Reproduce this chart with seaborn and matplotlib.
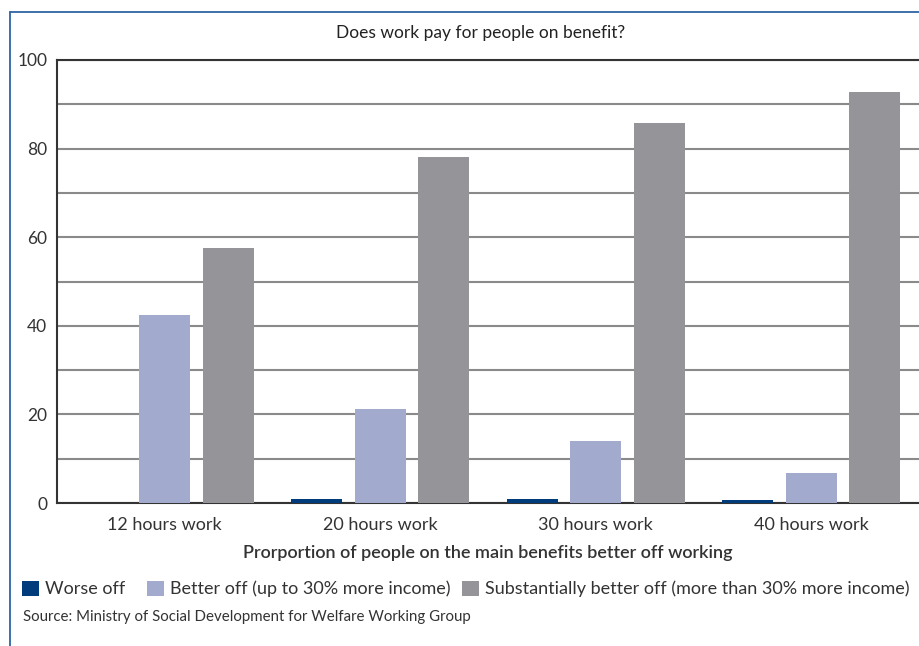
import matplotlib
matplotlib.use("Agg")
import matplotlib.pyplot as plt
import seaborn as sns
import pandas as pd
from matplotlib.lines import Line2D
from matplotlib.patches import Patch
from matplotlib.ticker import MultipleLocator, FixedLocator

categories = ["12 hours work", "20 hours work", "30 hours work", "40 hours work"]
series_names = ["Worse off", "Better off (up to 30% more income)",
                "Substantially better off (more than 30% more income)"]
worse_off = [0.0, 1.0, 0.8, 0.6]
better_off = [42.4, 21.3, 14.0, 6.8]
substantially_better = [57.6, 78.1, 85.8, 92.8]
colors = ["#003b7b", "#a2abcd", "#959599"]

rows = []
for name, vals in zip(series_names, [worse_off, better_off, substantially_better]):
    for c, v in zip(categories, vals):
        rows.append({"category": c, "series": name, "value": v})
df = pd.DataFrame(rows)

sns.set_theme(style="white")
plt.rcParams['font.family'] = ['Lato', 'DejaVu Sans']
text_color = "#333333"

fig = plt.figure(figsize=(9.19, 6.46), dpi=100)
ax = fig.add_axes([57/919, 1-503/646, 862/919, 443/646])

sns.barplot(data=df, x="category", y="value", hue="series", palette=colors,
            width=0.884, gap=0.2, ax=ax, legend=False, saturation=1,
            linewidth=0, edgecolor="none")

ax.set_xlim(-0.5, 3.5)
ax.set_ylim(0, 100)
ax.yaxis.set_major_locator(MultipleLocator(20))
ax.yaxis.set_minor_locator(MultipleLocator(10))
ax.grid(axis="y", which="both", color="#8a8a8a", lw=1.5, zorder=0)
ax.set_axisbelow(True)
for b in ax.patches:
    b.set_zorder(3)

ax.tick_params(axis="y", which="both", length=0, pad=7, labelsize=12.5, labelcolor=text_color)
ax.xaxis.set_minor_locator(FixedLocator([-0.5, 0.5, 1.5, 2.5]))
ax.tick_params(axis="x", which="major", length=0, pad=10, labelsize=13, labelcolor=text_color)
ax.tick_params(axis="x", which="minor", length=9, width=1.5, color="#333333", direction="out")
ax.set_xlabel("Prorportion of people on the main benefits better off working",
              fontsize=13, fontweight="semibold", color=text_color, labelpad=9)
ax.set_ylabel("")

for s in ["left", "bottom", "top"]:
    ax.spines[s].set_visible(True)
    ax.spines[s].set_color("#333333")
    ax.spines[s].set_linewidth(1.5)
ax.spines["right"].set_visible(False)

fig.text(481/919, 1-33/646, "Does work pay for people on benefit?", ha="center", va="center",
         fontsize=12.5, color="#222222")

legend_x = [22, 147, 462]
for c, n, lx in zip(colors, series_names, legend_x):
    leg = fig.legend(handles=[Patch(facecolor=c, edgecolor="none", label=n)],
                     loc="center left", bbox_to_anchor=(lx/919, 1-589/646),
                     frameon=False, fontsize=13, handlelength=0.95, handleheight=0.95,
                     handletextpad=0.3, borderaxespad=0, borderpad=0)
    for t in leg.get_texts():
        t.set_color(text_color)

fig.text(23/919, 1-617/646, "Source: Ministry of Social Development for Welfare Working Group",
         ha="left", va="center", fontsize=10.8, color=text_color)

frame_color = "#2f64a3"
fig.add_artist(Line2D([10/919, 10/919], [0, 1-12/646], transform=fig.transFigure,
                      color=frame_color, lw=1.3))
fig.add_artist(Line2D([10/919, 1], [1-12/646, 1-12/646], transform=fig.transFigure,
                      color=frame_color, lw=1.3))

fig.savefig("out.png", dpi=100, facecolor="white")
